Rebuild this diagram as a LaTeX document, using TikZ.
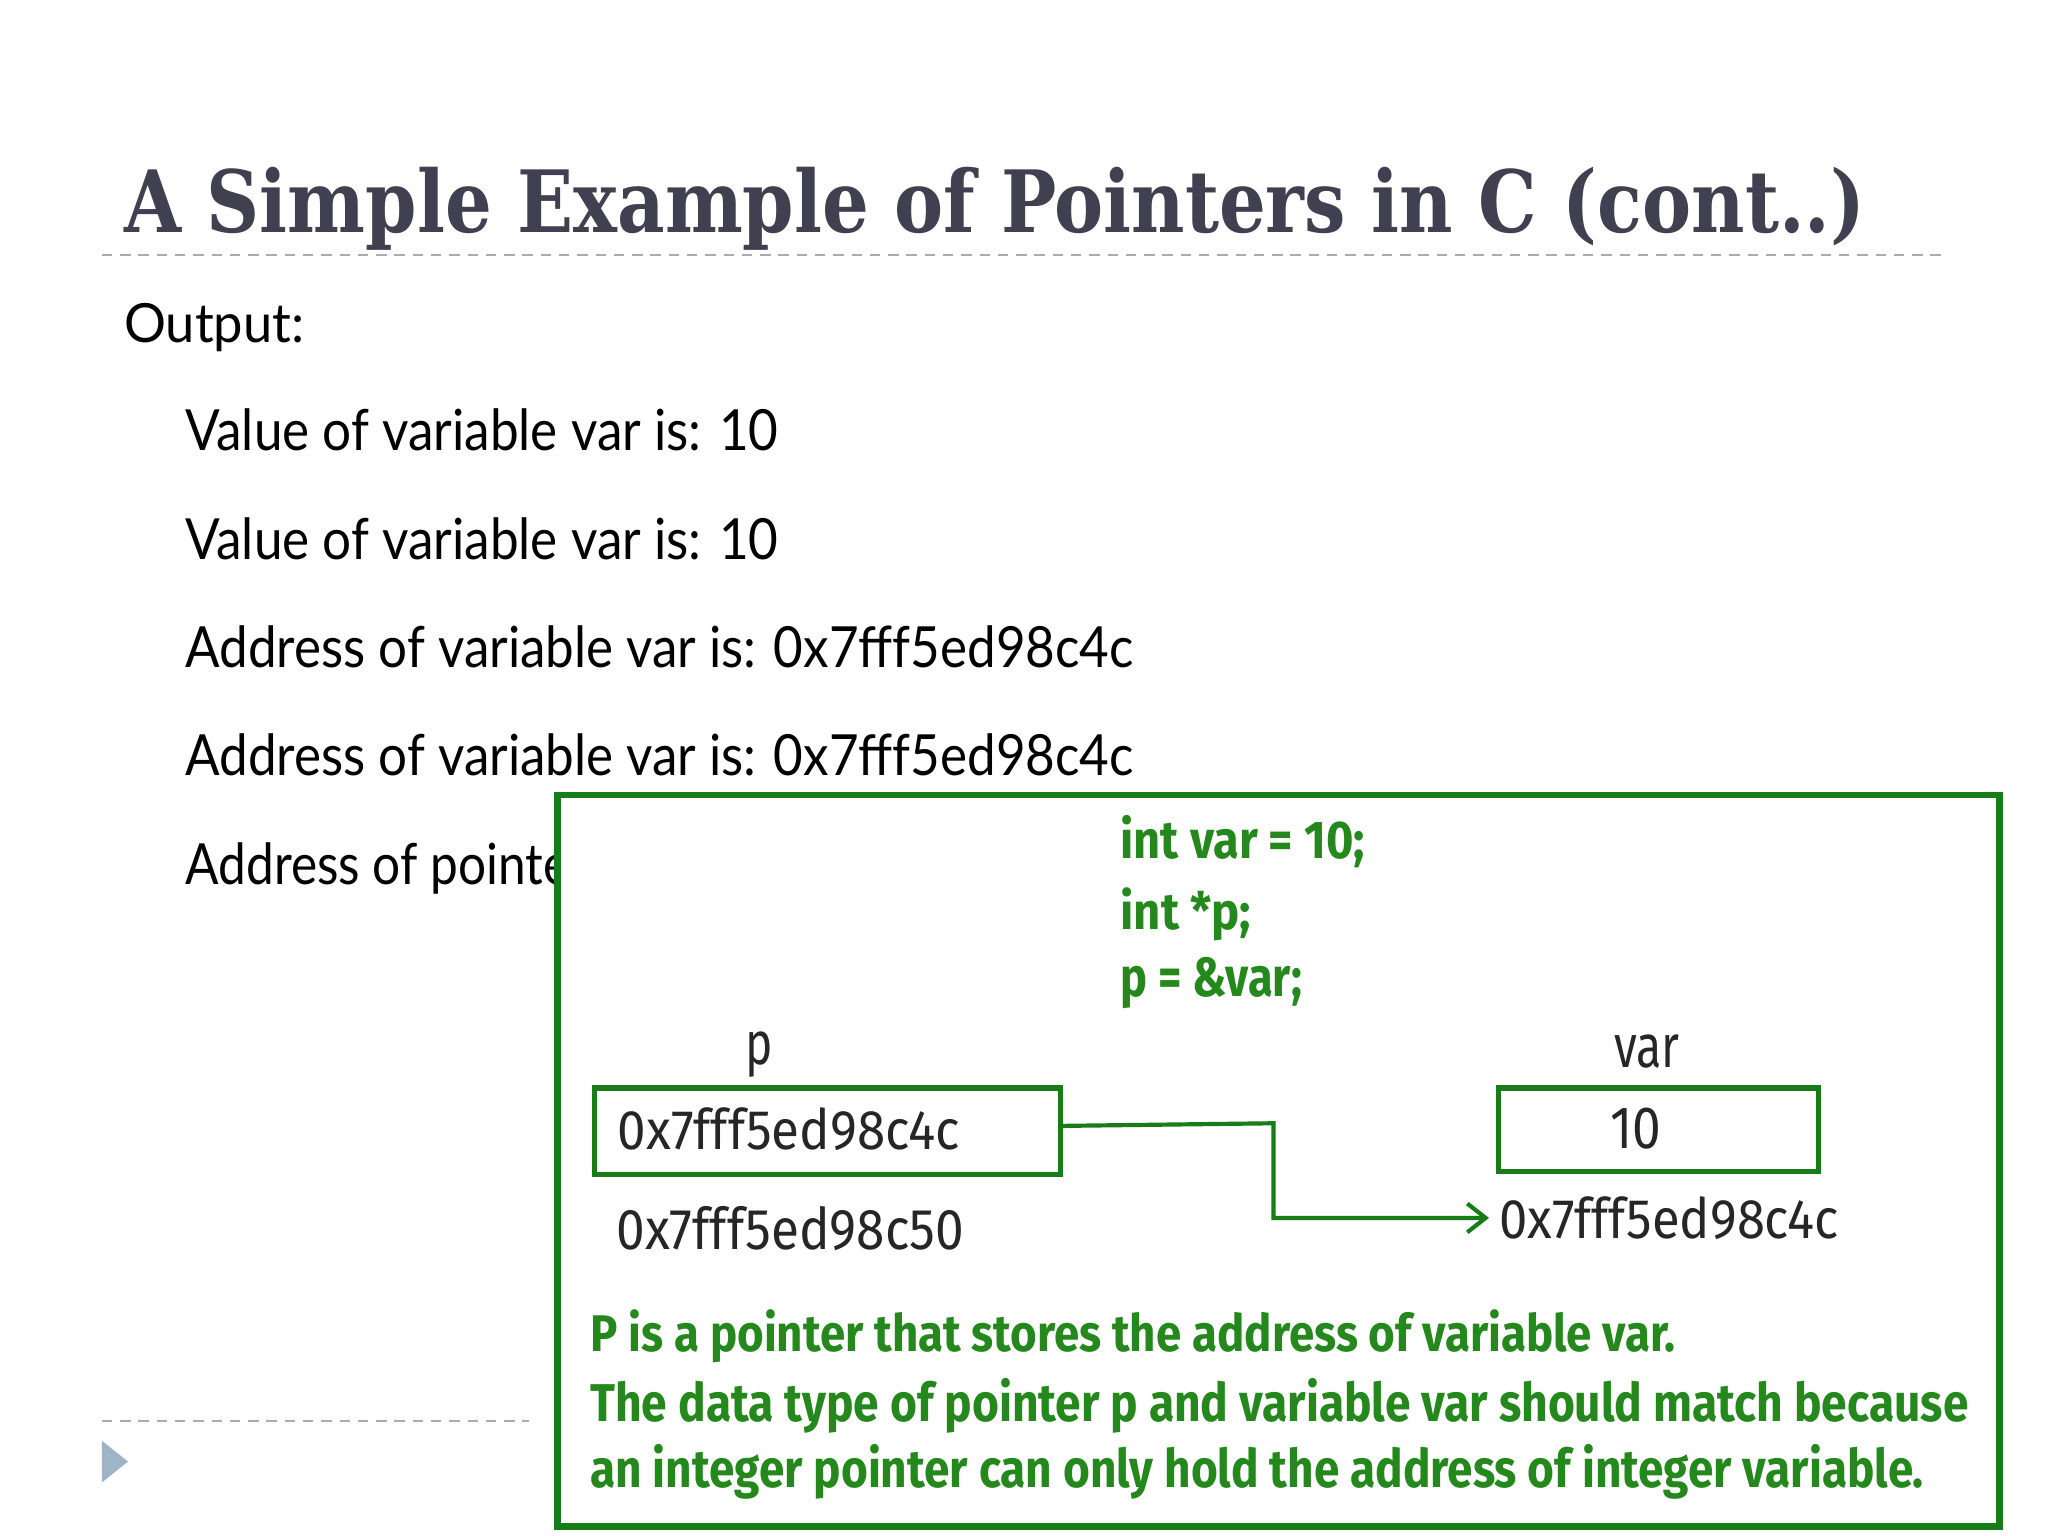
\documentclass[tikz,border=0pt]{standalone}
\usepackage{fontspec}
\usepackage{graphicx}
\setmainfont{Lato}
\newfontfamily\titlefont{DejaVu Serif}
\newfontfamily\boxfont{Fira Sans}
\usetikzlibrary{arrows.meta}
\definecolor{titlegray}{RGB}{64,64,80}
\definecolor{boxgreen}{RGB}{24,124,24}
\definecolor{txtgreen}{RGB}{36,136,28}
\definecolor{dashgray}{RGB}{170,170,178}
\definecolor{tri}{RGB}{160,180,200}
\newcommand{\fitt}[3]{\resizebox{#1pt}{#2pt}{#3}}
\tikzset{
  txt/.style={anchor=base west, inner sep=0pt, outer sep=0pt},
  outl/.style={txt, font=\fontsize{20}{24}\selectfont},
  code/.style={txt, text=txtgreen, font=\boxfont\bfseries},
  dark/.style={txt, text=black!85, font=\boxfont},
  cell/.style={draw=boxgreen, line width=2pt, inner sep=0pt},
  sep/.style={draw=dashgray, dashed, line width=0.7pt, dash pattern=on 4pt off 3pt}
}
\begin{document}
\begin{tikzpicture}[x=0.5pt,y=-0.5pt]
\useasboundingbox (0,0) rectangle (1568,1176);
\node[txt, text=titlegray, font=\titlefont\bfseries] (title) at (95,178) {\fitt{666.5}{25}{A Simple Example of Pointers in C (cont..)}};
\coordinate (s1a) at (78,195); \coordinate (s1b) at (1490,195);
\draw[sep] (s1a) -- (s1b);
\node[txt] (out) at (95,262) {\fitt{69}{15}{Output:}};
\node[txt] (l1) at (142,345) {\fitt{227}{16}{Value of variable var is: 10}};
\node[txt] (l2) at (142,428) {\fitt{227}{16}{Value of variable var is: 10}};
\node[txt] (l3) at (142,511) {\fitt{363}{16}{Address of variable var is: 0x7fff5ed98c4c}};
\node[txt] (l4) at (142,594) {\fitt{363}{16}{Address of variable var is: 0x7fff5ed98c4c}};
\node[txt] (l5) at (142,677) {\fitt{318}{16}{Address of pointer is: 0x7fff5ed98c50}};
\coordinate (s2a) at (78,1088); \coordinate (s2b) at (405,1088);
\draw[sep] (s2a) -- (s2b);
\coordinate (t1) at (78,1103); \coordinate (t2) at (98,1119); \coordinate (t3) at (78,1135);
\fill[tri] (t1) -- (t2) -- (t3) -- cycle;
% green panel
\node[draw=boxgreen, fill=white, line width=2.6pt, minimum width=552pt, minimum height=280pt, anchor=north west, inner sep=0pt] (panel) at (424,606) {};
\node[code] (c1) at (858,657) {\fitt{93.5}{16.5}{int var = 10;}};
\node[code] (c2) at (858,712) {\fitt{50}{16}{int *p;}};
\node[code] (c3) at (858,763) {\fitt{69.5}{15}{p = \&var;}};
\node[dark] (pl) at (571,815) {\fitt{10.5}{12.5}{p}};
\node[dark] (vl) at (1236,817) {\fitt{25}{12.5}{var}};
\node[cell, minimum width=178.5pt, minimum height=33pt, anchor=north west] (pbox) at (453,831) {};
\node[cell, minimum width=122.5pt, minimum height=32pt, anchor=north west] (vbox) at (1145,831) {};
\node[dark] (pv) at (473,880) {\fitt{131}{16}{0x7fff5ed98c4c}};
\node[dark] (vv) at (1233,879) {\fitt{19.5}{15.5}{10}};
\node[dark] (pa) at (472,957) {\fitt{133}{16.5}{0x7fff5ed98c50}};
\node[dark] (va) at (1148,948) {\fitt{130}{16}{0x7fff5ed98c4c}};
\coordinate (bend) at (975,860);
\draw[boxgreen, line width=1.6pt, -{Straight Barb[length=7pt,width=11pt,line width=1.6pt]}] ([yshift=2pt]pbox.east) -- (bend) |- ([xshift=-4pt]va.west);
\node[code] (g1) at (452,1035) {\fitt{415.5}{16}{P is a pointer that stores the address of variable var.}};
\node[code] (g2) at (452,1088) {\fitt{527.5}{16.5}{The data type of pointer p and variable var should match because}};
\node[code] (g3) at (452,1139) {\fitt{510.5}{16.5}{an integer pointer can only hold the address of integer variable.}};
\end{tikzpicture}
\end{document}
